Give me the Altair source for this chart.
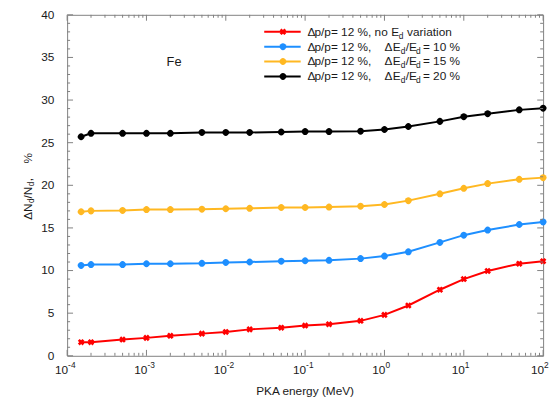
import altair as alt
import pandas as pd

# ---------------- data ----------------
energy = [1.5e-4, 2e-4, 5e-4, 1e-3, 2e-3, 5e-3, 1e-2, 2e-2, 5e-2, 0.1, 0.2, 0.5,
          1, 2, 5, 10, 20, 50, 100]
red_vals = [1.6, 1.6, 1.9, 2.1, 2.35, 2.6, 2.8, 3.1, 3.3, 3.55, 3.7, 4.1,
            4.8, 5.9, 7.75, 9.0, 9.95, 10.8, 11.1]
blue_vals = [10.6, 10.7, 10.7, 10.8, 10.8, 10.85, 10.95, 11.0, 11.1, 11.15, 11.2, 11.4,
             11.7, 12.2, 13.3, 14.15, 14.75, 15.4, 15.7]
yellow_vals = [16.9, 17.0, 17.05, 17.15, 17.15, 17.2, 17.25, 17.3, 17.4, 17.4, 17.45, 17.55,
               17.75, 18.2, 19.0, 19.65, 20.2, 20.7, 20.9]
black_vals = [25.7, 26.1, 26.1, 26.1, 26.1, 26.2, 26.2, 26.2, 26.25, 26.3, 26.3, 26.35,
              26.55, 26.9, 27.5, 28.05, 28.4, 28.85, 29.05]

series_names = ["none", "10", "15", "20"]
series_values = [red_vals, blue_vals, yellow_vals, black_vals]
series_colors = ["#ff0000", "#1e8fff", "#ffb822", "#000000"]
series_shapes = ["cross", "circle", "circle", "circle"]
legend_pct = ["", "10", "15", "20"]

y_tick_values = [0, 5, 10, 15, 20, 25, 30, 35, 40]
y_minor_values = [v for v in range(0, 41) if v % 5 != 0]
x_decades = [1e-4, 1e-3, 1e-2, 1e-1, 1e0, 1e1, 1e2]
x_exponents = ["-4", "-3", "-2", "-1", "0", "1", "2"]
x_minor_values = [k * d for d in x_decades[:-1] for k in range(2, 10)]

# ---------------- layout ----------------
W, H = 483, 346
FONT = "Liberation Sans"
TXT = "#1a1a1a"
FRAME = "#808080"

rows = []
for name, vals in zip(series_names, series_values):
    for e, v in zip(energy, vals):
        rows.append({"series": name, "energy": e, "value": v})
df = pd.DataFrame(rows)

xscale = alt.Scale(type="log", domain=[1e-4, 100], nice=False)
yscale = alt.Scale(domain=[0, 40], nice=False)
cscale = alt.Scale(domain=series_names, range=series_colors)
sscale = alt.Scale(domain=series_names, range=series_shapes)

X = alt.X("energy:Q", scale=xscale, axis=None)
Y = alt.Y("value:Q", scale=yscale, axis=None)

lines = alt.Chart(df).mark_line(strokeWidth=2).encode(
    x=X, y=Y, color=alt.Color("series:N", scale=cscale, legend=None))
points = alt.Chart(df).mark_point(filled=True, size=45, angle=45, opacity=1).encode(
    x=X, y=Y,
    color=alt.Color("series:N", scale=cscale, legend=None),
    shape=alt.Shape("series:N", scale=sscale, legend=None))

layers = [lines, points]

# ticks (inward on all four sides)
ydf_major = pd.DataFrame({"value": y_tick_values})
ydf_minor = pd.DataFrame({"value": y_minor_values})
xdf_major = pd.DataFrame({"energy": x_decades})
xdf_minor = pd.DataFrame({"energy": x_minor_values})
for d, ln in ((ydf_major, 6), (ydf_minor, 3)):
    layers.append(alt.Chart(d).mark_rule(color=FRAME, strokeWidth=1).encode(
        y=Y, x=alt.value(0), x2=alt.value(ln)))
    layers.append(alt.Chart(d).mark_rule(color=FRAME, strokeWidth=1).encode(
        y=Y, x=alt.value(W), x2=alt.value(W - ln)))
for d, ln in ((xdf_major, 6), (xdf_minor, 3)):
    layers.append(alt.Chart(d).mark_rule(color=FRAME, strokeWidth=1).encode(
        x=X, y=alt.value(H), y2=alt.value(H - ln)))
    layers.append(alt.Chart(d).mark_rule(color=FRAME, strokeWidth=1).encode(
        x=X, y=alt.value(0), y2=alt.value(ln)))

# y tick labels
layers.append(alt.Chart(ydf_major).mark_text(
    align="right", baseline="middle", font=FONT, fontSize=12, color=TXT, dx=-13).encode(
    y=Y, x=alt.value(0), text=alt.Text("value:Q")))

# x tick labels: "10" + superscript exponent
xl = pd.DataFrame({"energy": x_decades, "ten": ["10"] * len(x_decades), "exp": x_exponents})
layers.append(alt.Chart(xl).mark_text(
    align="right", baseline="alphabetic", font=FONT, fontSize=12, color=TXT, dx=1).encode(
    x=X, y=alt.value(H + 18), text="ten:N"))
layers.append(alt.Chart(xl).mark_text(
    align="left", baseline="alphabetic", font=FONT, fontSize=8.5, color=TXT, dx=1).encode(
    x=X, y=alt.value(H + 12), text="exp:N"))


def text_layer(s, x, y, fs=12, angle=0, baseline="middle", color=TXT, align="left"):
    return alt.Chart(pd.DataFrame({"t": [s]})).mark_text(
        align=align, baseline=baseline, font=FONT, fontSize=fs, angle=angle, color=color).encode(
        x=alt.value(x), y=alt.value(y), text="t:N")


MAIN_FS, SUB_FS = 12, 8.5

# Fe label
layers.append(text_layer("Fe", 108.5, 48, fs=13, align="center"))

# x title
layers.append(text_layer("PKA energy (MeV)", W / 2, H + 40, fs=12, align="center",
                         baseline="alphabetic"))

# y title (rotated, with subscripts): (text, is_sub, start position along the title)
ytitle = [("ΔN", False, 208), ("d", True, 191), ("/N", False, 186.5),
          ("d", True, 174), (",", False, 169), ("%", False, 151)]
for s, sub, yp in ytitle:
    layers.append(text_layer(s, -34 if sub else -36, yp, fs=SUB_FS if sub else MAIN_FS,
                             angle=270, baseline="alphabetic"))

# legend
legend_rows_y = [17.2, 32.3, 47.4, 62.5]
for i, name in enumerate(series_names):
    ly = legend_rows_y[i]
    one = pd.DataFrame({"series": [name]})
    layers.append(alt.Chart(one).mark_rule(strokeWidth=2).encode(
        x=alt.value(200), x2=alt.value(237), y=alt.value(ly),
        color=alt.Color("series:N", scale=cscale, legend=None)))
    layers.append(alt.Chart(one).mark_point(filled=True, size=45, angle=45, opacity=1).encode(
        x=alt.value(219), y=alt.value(ly),
        color=alt.Color("series:N", scale=cscale, legend=None),
        shape=alt.Shape("series:N", scale=sscale, legend=None)))
    if i == 0:
        pieces = [("Δ", False, 244), ("p/p= 12 %, no", False, 251), ("E", False, 329),
                  ("d", True, 336.5), ("variation", False, 345)]
    else:
        pieces = [("Δ", False, 244), ("p/p= 12 %,", False, 251), ("Δ", False, 322),
                  ("E", False, 330.5), ("d", True, 338.5), ("/E", False, 343.5),
                  ("d", True, 354), ("= " + legend_pct[i] + " %", False, 361)]
    for s, sub, xp in pieces:
        layers.append(text_layer(s, xp, ly + (4 if sub else 0),
                                 fs=SUB_FS if sub else MAIN_FS))

chart = alt.layer(*layers).properties(
    width=W, height=H,
    autosize=alt.AutoSizeParams(type="none"),
    padding={"left": 60, "top": 4, "right": 8, "bottom": 46},
    background="white",
).configure_view(stroke=FRAME, strokeWidth=1)

chart.save("out.html", embed_options={"renderer": "svg", "actions": False})
